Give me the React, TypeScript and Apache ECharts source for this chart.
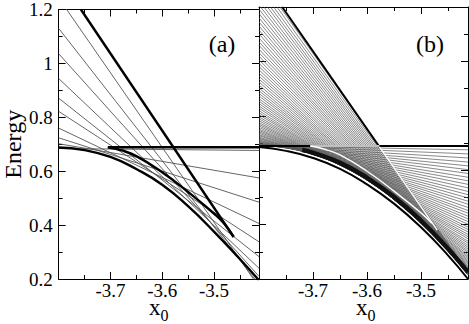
import React, { useEffect, useRef } from "react";
import * as echarts from "echarts";

// x0 range and y (Energy) range
const X_RANGE = [-3.8, -3.413];
const Y_RANGE = [0.2, 1.2];

// Panel (a): thin straight lines, Energy at left edge (x0=-3.8) and right edge (x0=-3.413)
const aThinLeft = [0.684, 0.702, 0.724, 0.76, 0.822, 0.871, 0.944, 1.036, 1.13, 1.243];
const aThinRight = [0.677, 0.575, 0.485, 0.406, 0.338, 0.283, 0.24, 0.21, 0.18, 0.17];

// Thick diabatic line (steep)
const diaX = [-3.757, -3.577, -3.462];
const diaE = [1.2, 0.686, 0.356];
// end of its white part in panel (b)
const diaWhiteEnd = [-3.47, 0.38];

// Thick horizontal level
const horizE = 0.689;
const horizStart = -3.705;

// Lower adiabatic curve
const lowX = [-3.8, -3.75, -3.7, -3.65, -3.6, -3.55, -3.5, -3.45, -3.413];
const lowEa = [0.688, 0.678, 0.653, 0.608, 0.55, 0.47, 0.376, 0.274, 0.195];
const lowEb = [0.685, 0.671, 0.645, 0.605, 0.548, 0.477, 0.39, 0.287, 0.2];

// Dark band of accumulated levels in panel (b)
const bandX = [-3.72, -3.7, -3.65, -3.6, -3.55, -3.5, -3.45, -3.413];
const bandE = [0.674, 0.664, 0.627, 0.572, 0.501, 0.414, 0.311, 0.225];

// Upper adiabatic curve
const upX = [-3.705, -3.68, -3.65, -3.6, -3.55, -3.5, -3.48, -3.462];
const upE = [0.689, 0.678, 0.656, 0.596, 0.523, 0.443, 0.405, 0.356];

// Panel (b): dense family of thin lines (left edge / right edge energies)
const bLeft = [
  0.69, 0.691, 0.691, 0.692, 0.693, 0.695, 0.696, 0.698, 0.7, 0.703,
  0.705, 0.708, 0.711, 0.715, 0.718, 0.722, 0.727, 0.731, 0.736, 0.741,
  0.746, 0.751, 0.757, 0.763, 0.769, 0.775, 0.782, 0.789, 0.796, 0.804,
  0.811, 0.819, 0.828, 0.836, 0.845, 0.854, 0.863, 0.873, 0.882, 0.892,
  0.902, 0.913, 0.924, 0.935, 0.946, 0.957, 0.969, 0.981, 0.993, 1.006,
  1.019, 1.032, 1.045, 1.059, 1.072, 1.086, 1.101, 1.115, 1.13, 1.145,
  1.16, 1.176, 1.192, 1.208, 1.224, 1.241, 1.257, 1.274, 1.292, 1.309,
];
const bRight = [
  0.675, 0.66, 0.645, 0.63, 0.616, 0.602, 0.588, 0.574, 0.561, 0.548,
  0.535, 0.522, 0.51, 0.498, 0.486, 0.475, 0.463, 0.452, 0.442, 0.431,
  0.421, 0.411, 0.401, 0.391, 0.382, 0.373, 0.364, 0.356, 0.348, 0.339,
  0.332, 0.324, 0.317, 0.31, 0.303, 0.297, 0.29, 0.284, 0.279, 0.273,
  0.268, 0.263, 0.258, 0.254, 0.249, 0.245, 0.242, 0.238, 0.235, 0.232,
  0.229, 0.227, 0.225, 0.223, 0.221, 0.22, 0.218, 0.217, 0.217, 0.216,
  0.216, 0.216, 0.216, 0.217, 0.218, 0.219, 0.22, 0.222, 0.224, 0.226,
];

const FONT = '"Liberation Serif", "Times New Roman", Times, serif';

export default function App() {
  const ref = useRef<HTMLDivElement>(null);

  useEffect(() => {
    if (!ref.current) return;
    const chart = echarts.init(ref.current, null, { renderer: "svg" });

    const xMajor = (gridIndex: number, position: string, labels: boolean) => ({
      type: "value",
      gridIndex,
      position,
      min: X_RANGE[0],
      max: X_RANGE[1],
      interval: 0.1,
      axisLine: { show: true, onZero: false, lineStyle: { color: "#000", width: 1 } },
      axisTick: { show: true, inside: true, length: 7, lineStyle: { color: "#000" } },
      axisLabel: {
        show: labels,
        showMinLabel: false,
        showMaxLabel: false,
        margin: 3,
        lineHeight: 16,
        color: "#000",
        fontFamily: FONT,
        fontSize: 19,
        formatter: (v: number) => String(Math.round(v * 10) / 10),
      },
      splitLine: { show: false },
    });
    const xMinor = (gridIndex: number, position: string) => ({
      type: "value",
      gridIndex,
      position,
      min: X_RANGE[0],
      max: X_RANGE[1],
      interval: 0.05,
      axisLine: { show: false, onZero: false },
      axisTick: { show: true, inside: true, length: 4, lineStyle: { color: "#000" } },
      axisLabel: { show: false },
      splitLine: { show: false },
    });
    const yAx = (gridIndex: number, position: string, labels: boolean, name?: string) => ({
      type: "value",
      gridIndex,
      position,
      min: Y_RANGE[0],
      max: Y_RANGE[1],
      interval: 0.2,
      name: name || "",
      nameLocation: "middle",
      nameGap: 33,
      nameRotate: 90,
      nameTextStyle: { color: "#000", fontFamily: FONT, fontSize: 24 },
      axisLine: { show: true, onZero: false, lineStyle: { color: "#000", width: 1 } },
      axisTick: { show: true, inside: true, length: 7, lineStyle: { color: "#000" } },
      minorTick: { show: true, splitNumber: 2, length: 4, lineStyle: { color: "#000" } },
      axisLabel: {
        show: labels,
        margin: 6,
        color: "#000",
        fontFamily: FONT,
        fontSize: 19,
        formatter: (v: number) => String(Math.round(v * 10) / 10),
      },
      splitLine: { show: false },
    });

    const line = (
      xi: number,
      yi: number,
      data: number[][],
      color: string,
      width: number,
      smooth = false
    ) => ({
      type: "line",
      xAxisIndex: xi,
      yAxisIndex: yi,
      data,
      symbol: "none",
      smooth,
      silent: true,
      clip: true,
      lineStyle: { color, width },
    });

    const series: any[] = [];
    // Panel (a)
    aThinLeft.forEach((l, i) => {
      series.push(
        line(0, 0, [[X_RANGE[0], l], [X_RANGE[1], aThinRight[i]]], "#555", 0.9)
      );
    });
    series.push(line(0, 0, [[diaX[0], diaE[0]], [diaX[2], diaE[2]]], "#000", 2.4));
    series.push(line(0, 0, [[horizStart, horizE], [X_RANGE[1], horizE]], "#000", 2.4));
    series.push(line(0, 0, lowX.map((x, i) => [x, lowEa[i]]), "#000", 2.4, true));
    series.push(line(0, 0, upX.map((x, i) => [x, upE[i]]), "#000", 2.4, true));

    // Panel (b)
    bLeft.forEach((l, i) => {
      series.push(line(4, 2, [[X_RANGE[0], l], [X_RANGE[1], bRight[i]]], "#555", 0.7));
    });
    series.push(line(4, 2, bandX.map((x, i) => [x, bandE[i]]), "#111", 4.5, true));
    series.push(line(4, 2, [[diaX[0], diaE[0]], [diaX[1], diaE[1]]], "#000", 2));
    series.push(line(4, 2, [[X_RANGE[0], horizE], [X_RANGE[1], horizE]], "#000", 2));
    series.push(line(4, 2, lowX.map((x, i) => [x, lowEb[i]]), "#000", 2, true));
    series.push(line(4, 2, [[horizStart, horizE], [diaX[1], horizE]], "#fff", 1.4));
    series.push(line(4, 2, upX.slice(0, 7).map((x, i) => [x, upE[i]]), "#fff", 1.4, true));
    series.push(line(4, 2, [[diaX[1], diaE[1]], diaWhiteEnd], "#fff", 1.4));

    const txt = (
      text: string,
      x: number,
      y: number,
      size: number,
      lh: number,
      align = "center"
    ) => ({
      type: "text",
      x,
      y,
      silent: true,
      style: {
        text,
        fill: "#000",
        fontFamily: FONT,
        fontSize: size,
        lineHeight: lh,
        align,
        verticalAlign: "middle",
      },
    });

    chart.setOption({
      animation: false,
      backgroundColor: "#fff",
      grid: [
        { left: 53, top: 7, width: 206, height: 272 },
        { left: 259, top: 7, width: 209, height: 272 },
      ],
      xAxis: [
        xMajor(0, "bottom", true),
        xMinor(0, "bottom"),
        xMajor(0, "top", false),
        xMinor(0, "top"),
        xMajor(1, "bottom", true),
        xMinor(1, "bottom"),
        xMajor(1, "top", false),
        xMinor(1, "top"),
      ],
      yAxis: [
        yAx(0, "left", true, "Energy"),
        yAx(0, "right", false),
        yAx(1, "left", false),
        yAx(1, "right", false),
      ],
      series,
      graphic: [
        txt("(a)", 222, 44, 24, 24),
        txt("(b)", 430, 44, 24, 24),
        txt("x", 149, 307, 23, 10, "left"),
        txt("0", 160.5, 315, 16, 12, "left"),
        txt("x", 356, 307, 23, 10, "left"),
        txt("0", 367.5, 315, 16, 12, "left"),
      ],
    });
    return () => chart.dispose();
  }, []);

  return (
    <div
      ref={ref}
      style={{ position: "absolute", left: 0, top: 0, width: 469, height: 324 }}
    />
  );
}
